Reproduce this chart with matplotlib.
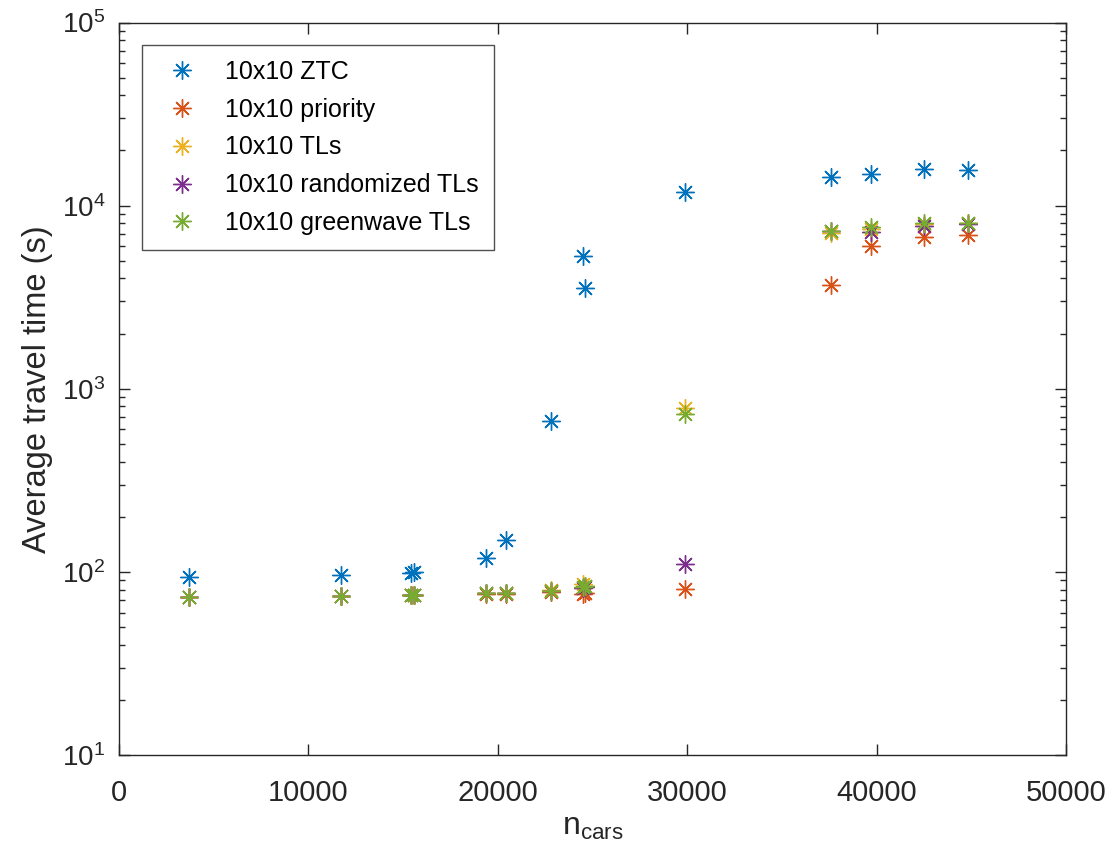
import matplotlib
matplotlib.use("Agg")
import matplotlib.pyplot as plt
from matplotlib.ticker import LogLocator, NullFormatter, FixedLocator

plt.rcParams['font.family'] = ['Liberation Sans', 'DejaVu Sans']
plt.rcParams['mathtext.fontset'] = 'custom'
plt.rcParams['mathtext.rm'] = 'Liberation Sans'
plt.rcParams['mathtext.it'] = 'Liberation Sans:italic'

n_cars = [3700, 11700, 15400, 15550, 19400, 20450, 22800, 24500, 24600, 29900,
          37600, 39700, 42500, 44850]

ztc        = [94, 96, 99, 100, 119, 149, 667, 5300, 3535, 11900, 14400, 14800, 15800, 15700]
priority   = [73, 74, 74.5, 75, 76, 76, 78, 76, 77, 81, 3680, 6020, 6760, 6910]
tls        = [73, 74, 74.5, 75, 77, 77, 80, 86, 84, 781, 7060, 7500, 7900, 8000]
randomized = [73, 74, 74.5, 75, 77, 77, 79, 82, 83, 111, 7250, 7210, 7740, 7950]
greenwave  = [73, 74, 74.5, 75, 77, 77, 79, 83, 84, 728, 7290, 7610, 8000, 8000]

labels = ['10x10 ZTC', '10x10 priority', '10x10 TLs', '10x10 randomized TLs',
          '10x10 greenwave TLs']
colors = ['#0072BD', '#D95319', '#EDB120', '#7E2F8E', '#77AC30']
series = [ztc, priority, tls, randomized, greenwave]

fig = plt.figure(figsize=(11.15, 8.43), dpi=100)
ax = fig.add_axes([119/1115, 1 - 755/843, (1066-119)/1115, (755-22.5)/843])

marker = (8, 2, 0)
for vals, lab, c in zip(series, labels, colors):
    ax.plot(n_cars, vals, linestyle='none', marker=marker, markersize=13,
            markeredgewidth=1.0, color=c, label=lab)

ax.set_yscale('log')
ax.set_xlim(0, 50000)
ax.set_ylim(10, 1e5)
ax.xaxis.set_major_locator(FixedLocator([0, 10000, 20000, 30000, 40000, 50000]))
ax.yaxis.set_major_locator(LogLocator(base=10, numticks=10))
ax.yaxis.set_minor_locator(LogLocator(base=10, subs=range(2, 10), numticks=50))
ax.yaxis.set_minor_formatter(NullFormatter())

gray = '#262626'
for s in ax.spines.values():
    s.set_color(gray)
    s.set_linewidth(1.0)
ax.tick_params(which='both', direction='in', top=True, right=True, colors=gray,
               labelcolor=gray)
ax.tick_params(axis='x', labelsize=21, pad=17)
ax.tick_params(axis='y', labelsize=20, pad=10)
ax.tick_params(which='major', length=8, width=1.0)
ax.tick_params(which='minor', length=4, width=1.0)

ax.set_xlabel(r'n$_\mathregular{cars}$', fontsize=23, color=gray, labelpad=4)
ax.set_ylabel('Average travel time (s)', fontsize=23.5, color=gray, labelpad=6)

leg = ax.legend(loc='upper left', bbox_to_anchor=(141.7/1115, 1 - 45/843),
                bbox_transform=fig.transFigure, fontsize=18, frameon=True,
                fancybox=False, edgecolor=gray, borderpad=0.6, labelspacing=0.55,
                handlelength=2.0, handletextpad=0.73, borderaxespad=0)
leg.get_frame().set_linewidth(1.0)
for t in leg.get_texts():
    t.set_color('black')

fig.savefig('out.png', dpi=100, facecolor='white')
